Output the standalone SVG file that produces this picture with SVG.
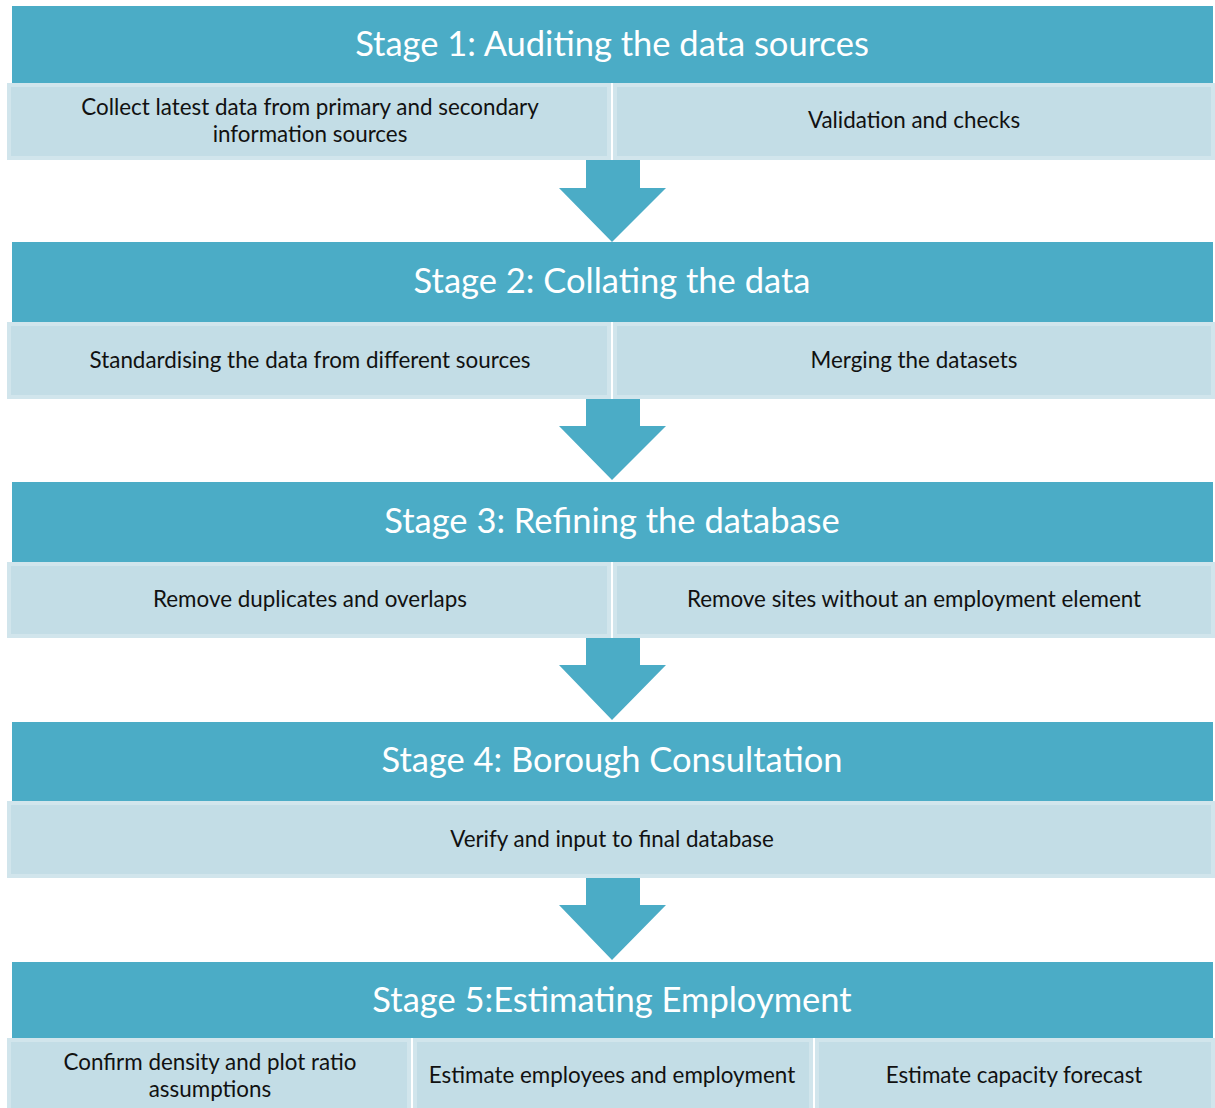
<svg xmlns="http://www.w3.org/2000/svg" width="1215" height="1108" viewBox="0 0 1215 1108">
<style>
.hdr{fill:#4BACC6}
.sub{fill:#C3DDE6;stroke:#D1E5EC;stroke-width:4}
.arr{fill:#4BACC6}
.ht{font-family:Lato,"Open Sans",sans-serif;font-size:34.5px;fill:#FFFFFF;text-anchor:middle}
.st{font-family:Lato,"Open Sans",sans-serif;font-size:22.4px;fill:#111111;text-anchor:middle}
</style>
<rect width="1215" height="1108" fill="#FFFFFF"/>
<g id="connectors">
<path class="arr" d="M586,160 H640 V188 H666 L612,242 L559,188 H586 Z"/>
<path class="arr" d="M586,399 H640 V426 H666 L612,480 L559,426 H586 Z"/>
<path class="arr" d="M586,638 H640 V665 H666 L612,720 L559,665 H586 Z"/>
<path class="arr" d="M586,878 H640 V905 H666 L612,960 L559,905 H586 Z"/>
</g>
<g id="stage1">
<rect class="hdr" x="12" y="6" width="1201" height="77"/>
<text class="ht" x="612" y="56">Stage 1: Auditing the data sources</text>
</g>
<g id="s1a">
<rect class="sub" x="9" y="85" width="600" height="73"/>
<text class="st" x="310" y="115">Collect latest data from primary and secondary</text>
<text class="st" x="310" y="142">information sources</text>
</g>
<g id="s1b">
<rect class="sub" x="615" y="85" width="598" height="73"/>
<text class="st" x="914" y="128">Validation and checks</text>
</g>
<g id="stage2">
<rect class="hdr" x="12" y="242" width="1201" height="80"/>
<text class="ht" x="612" y="293">Stage 2: Collating the data</text>
</g>
<g id="s2a">
<rect class="sub" x="9" y="324" width="600" height="73"/>
<text class="st" x="310" y="368">Standardising the data from different sources</text>
</g>
<g id="s2b">
<rect class="sub" x="615" y="324" width="598" height="73"/>
<text class="st" x="914" y="368">Merging the datasets</text>
</g>
<g id="stage3">
<rect class="hdr" x="12" y="482" width="1201" height="80"/>
<text class="ht" x="612" y="533">Stage 3: Refining the database</text>
</g>
<g id="s3a">
<rect class="sub" x="9" y="564" width="600" height="72"/>
<text class="st" x="310" y="607">Remove duplicates and overlaps</text>
</g>
<g id="s3b">
<rect class="sub" x="615" y="564" width="598" height="72"/>
<text class="st" x="914" y="607">Remove sites without an employment element</text>
</g>
<g id="stage4">
<rect class="hdr" x="12" y="722" width="1201" height="79"/>
<text class="ht" x="612" y="772">Stage 4: Borough Consultation</text>
</g>
<g id="s4a">
<rect class="sub" x="9" y="803" width="1204" height="73"/>
<text class="st" x="612" y="847">Verify and input to final database</text>
</g>
<g id="stage5">
<rect class="hdr" x="12" y="962" width="1201" height="76"/>
<text class="ht" x="612" y="1012">Stage 5:Estimating Employment</text>
</g>
<g id="s5a">
<rect class="sub" x="9" y="1040" width="400" height="70"/>
<text class="st" x="210" y="1070">Confirm density and plot ratio</text>
<text class="st" x="210" y="1097">assumptions</text>
</g>
<g id="s5b">
<rect class="sub" x="415" y="1040" width="396" height="70"/>
<text class="st" x="612" y="1083">Estimate employees and employment</text>
</g>
<g id="s5c">
<rect class="sub" x="817" y="1040" width="396" height="70"/>
<text class="st" x="1014" y="1083">Estimate capacity forecast</text>
</g>
</svg>
